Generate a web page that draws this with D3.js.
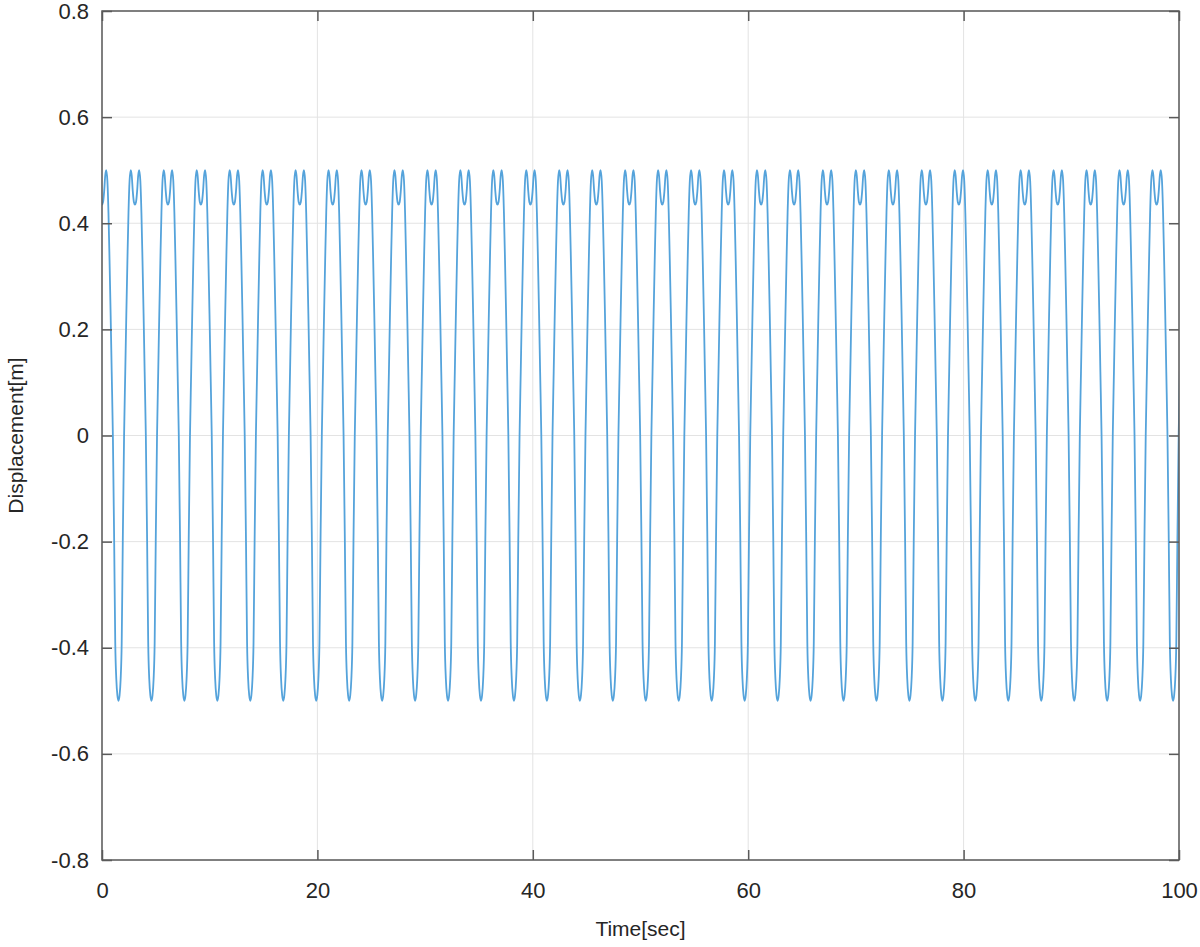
<!DOCTYPE html>
<html>
<head>
<meta charset="utf-8">
<script src="https://cdn.jsdelivr.net/npm/d3@7"></script>
<style>
  html, body { margin: 0; padding: 0; background: #fff; }
  svg { display: block; }
  text { font-family: "Liberation Sans", Arial, Helvetica, sans-serif; fill: #262626; }
</style>
</head>
<body>
<svg id="chart" width="1200" height="947"></svg>
<script>
// ---- data ----
const xTicks = [0, 20, 40, 60, 80, 100];
const yTicks = [-0.8, -0.6, -0.4, -0.2, 0, 0.2, 0.4, 0.6, 0.8];
const yTickLabels = ["-0.8", "-0.6", "-0.4", "-0.2", "0", "0.2", "0.4", "0.6", "0.8"];
const xLabel = "Time[sec]";
const yLabel = "Displacement[m]";

// times (sec) of the centre of each positive lobe (the small dip between the twin peaks)
const lobeCenters = [0, 3.06, 6.12, 9.18, 12.24, 15.30, 18.36, 21.42, 24.48, 27.54,
  30.60, 33.66, 36.72, 39.78, 42.84, 45.90, 48.96, 52.02, 55.08, 58.14,
  61.20, 64.26, 67.32, 70.38, 73.44, 76.50, 79.56, 82.62, 85.68, 88.74,
  91.80, 94.86, 97.92, 100.98];
// one cycle of the waveform: offset from lobe centre (sec) and displacement (m)
const cycleOffsets = [-1.53, -1.43, -1.33, -1.23, -1.13, -1.01, -0.9, -0.8, -0.7, -0.6, -0.5, -0.39, -0.3, -0.2, -0.1,
  0, 0.1, 0.2, 0.3, 0.39, 0.5, 0.6, 0.7, 0.8, 0.9, 1.01, 1.13, 1.23, 1.33, 1.43];
const cycleValues = [-0.5, -0.49, -0.46, -0.39, -0.2, 0, 0.12, 0.23, 0.33, 0.42, 0.48, 0.5, 0.49, 0.46, 0.44,
  0.435, 0.44, 0.46, 0.49, 0.5, 0.48, 0.42, 0.33, 0.23, 0.12, 0, -0.2, -0.39, -0.46, -0.49];

// ---- layout ----
const svg = d3.select("#chart");
const pL = 102, pR = 1179, pT = 11, pB = 860;

const x = d3.scaleLinear().domain([0, 100]).range([pL, pR]);
const y = d3.scaleLinear().domain([-0.8, 0.8]).range([pB, pT]);

// grid
const grid = svg.append("g").attr("stroke", "#e3e3e3").attr("stroke-width", 1);
grid.selectAll(".gx").data(xTicks).join("line")
  .attr("x1", d => x(d)).attr("x2", d => x(d)).attr("y1", pT).attr("y2", pB);
grid.selectAll(".gy").data(yTicks).join("line")
  .attr("y1", d => y(d)).attr("y2", d => y(d)).attr("x1", pL).attr("x2", pR);

// series
const series = [];
lobeCenters.forEach(c => {
  cycleOffsets.forEach((o, i) => series.push([c + o, cycleValues[i]]));
});

svg.append("defs").append("clipPath").attr("id", "clip")
  .append("rect").attr("x", pL).attr("y", pT).attr("width", pR - pL).attr("height", pB - pT);

svg.append("path")
  .datum(series)
  .attr("clip-path", "url(#clip)")
  .attr("fill", "none")
  .attr("stroke", "#55a3db")
  .attr("stroke-width", 1.8)
  .attr("stroke-linejoin", "round")
  .attr("d", d3.line().x(d => x(d[0])).y(d => y(d[1])).curve(d3.curveMonotoneX));

// axes (box with inward ticks on all sides)
const tickLen = 10;
const axisColor = "#5a5a5a";
const ax = svg.append("g");
ax.append("rect").attr("x", pL).attr("y", pT).attr("width", pR - pL).attr("height", pB - pT)
  .attr("fill", "none").attr("stroke", axisColor).attr("stroke-width", 1.5);

const bottomAxis = d3.axisBottom(x).tickValues(xTicks).tickSize(-tickLen).tickPadding(22).tickFormat(d3.format("d"));
const topAxis = d3.axisTop(x).tickValues(xTicks).tickSize(-tickLen).tickFormat("");
const leftAxis = d3.axisLeft(y).tickValues(yTicks).tickSize(-tickLen).tickPadding(13)
  .tickFormat((d, i) => yTickLabels[i]);
const rightAxis = d3.axisRight(y).tickValues(yTicks).tickSize(-tickLen).tickFormat("");

function style(g) {
  g.select(".domain").remove();
  g.selectAll(".tick line").attr("stroke", axisColor).attr("stroke-width", 1.5);
  g.selectAll(".tick text").attr("font-size", 22).attr("fill", "#262626")
    .attr("font-family", "'Liberation Sans', Arial, Helvetica, sans-serif");
}
ax.append("g").attr("transform", `translate(0,${pB})`).call(bottomAxis).call(style);
ax.append("g").attr("transform", `translate(0,${pT})`).call(topAxis).call(style);
ax.append("g").attr("transform", `translate(${pL},0)`).call(leftAxis).call(style);
ax.append("g").attr("transform", `translate(${pR},0)`).call(rightAxis).call(style);

// axis titles
svg.append("text").attr("x", (pL + pR) / 2).attr("y", 936)
  .attr("text-anchor", "middle").attr("font-size", 21).text(xLabel);
svg.append("text").attr("transform", `translate(23,${(pT + pB) / 2}) rotate(-90)`)
  .attr("text-anchor", "middle").attr("font-size", 21).text(yLabel);
</script>
</body>
</html>
